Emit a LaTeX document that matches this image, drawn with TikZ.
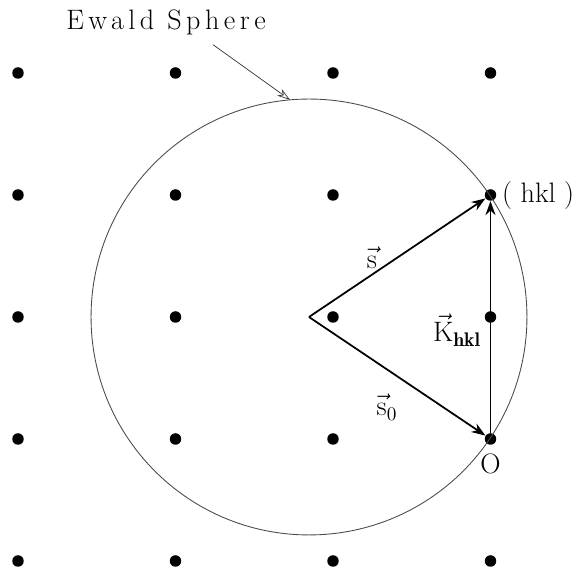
\documentclass[tikz,border=0pt]{standalone}
\usepackage{fontspec}
\usepackage{amsmath}
\usetikzlibrary{arrows.meta,positioning}
\newfontfamily\spacedfont[LetterSpace=16]{Latin Modern Roman}

\begin{document}
\begin{tikzpicture}[x=0.02cm, y=-0.02cm,
        latpt/.style={circle, fill=black, inner sep=0pt, minimum size=0.23cm},
        vec/.style={-{Stealth[length=2.8mm, width=2mm]}, line width=1pt},
        pointer/.style={-{Stealth[length=2.6mm, width=1.6mm, open]}, line width=0.4pt, black!80},
        lbl/.style={font=\fontsize{16}{19}\selectfont, inner sep=1pt}
    ]
        \useasboundingbox (0,0) rectangle (583,570);
        % reciprocal lattice points
        \foreach \i in {0,...,3}
            \foreach \j in {0,...,4}
                \node[latpt] (p\i\j) at ({18+157.5*\i},{73+122*\j}) {};
        % Ewald sphere
        \coordinate (C) at (309,317);
        \draw[line width=0.5pt, black!70] (C) circle[radius=4.36cm];
        \path (C) ++(95:4.36cm) coordinate (touch);
        \node[lbl] (ewald) at (166,22) {\spacedfont Ewald Sphere};
        \draw[pointer] ([xshift=0.94cm, yshift=-0.16cm]ewald.south) -- (touch);
        % vectors
        \draw[vec] (C) -- (p31);
        \draw[vec] (C) -- (p33);
        \draw[vec] (p33) -- (p31);
        \node[lbl] (s) at (372,258) {$\vec{\mathrm{s}}$};
        \node[lbl] (s0) at (387,407) {$\vec{\mathrm{s}}_0$};
        \node[lbl] (K) at (457,330) {$\vec{\mathrm{K}}_{\mathbf{hkl}}$};
        \node[lbl, right=2pt of p31] (hkl) {( hkl )};
        \node[lbl, below=4pt of p33] (O) {O};
    \end{tikzpicture}
\end{document}
